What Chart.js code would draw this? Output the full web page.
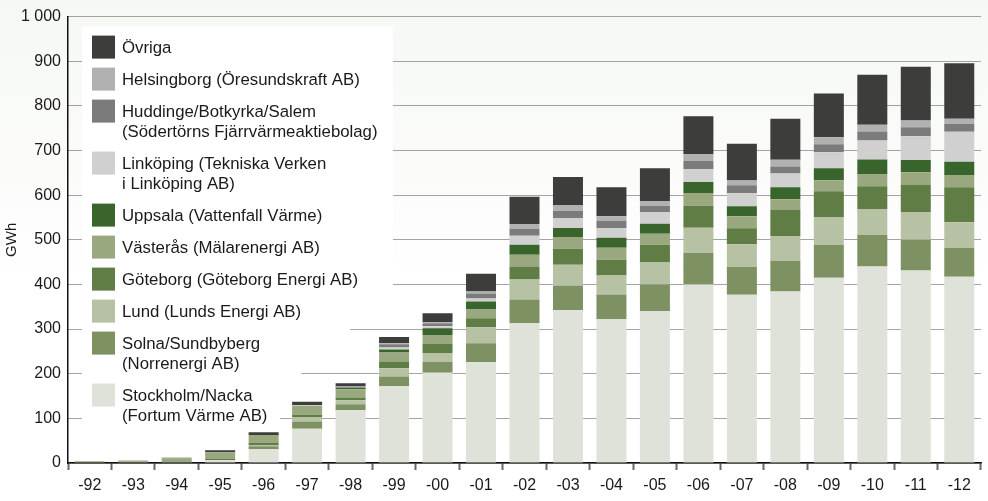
<!DOCTYPE html>
<html lang="sv">
<head>
<meta charset="utf-8">
<script src="https://cdn.jsdelivr.net/npm/chart.js@4.4.1/dist/chart.umd.min.js"></script>
<style>
  html, body { margin: 0; padding: 0; background: #fff; }
  canvas { display: block; }
</style>
</head>
<body>
<canvas id="chart" width="988" height="501"></canvas>
<script>
// år (x-axel)
const years = ['-92', '-93', '-94', '-95', '-96', '-97', '-98', '-99', '-00', '-01', '-02',
               '-03', '-04', '-05', '-06', '-07', '-08', '-09', '-10', '-11', '-12'];

// GWh per bolag, nedifrån och upp i stapeln
const stockholm   = [0, 0, 0, 7, 31, 77, 118, 172, 202, 226, 313, 342, 322, 340, 400, 377, 384, 415, 440, 431, 417];
const solna       = [0, 0, 0, 0, 6.5, 16, 13.5, 22, 24.5, 42, 53.5, 55.5, 55.5, 60, 71, 62, 69, 73.5, 71, 69, 64.5];
const lund        = [0, 0, 0, 0, 3, 9, 9, 18, 20, 36, 44.5, 46.5, 42.5, 49, 56, 51, 55.5, 62.5, 58, 62.5, 58];
const goteborg    = [0, 0, 0, 2, 4.5, 6, 6.5, 15.5, 20, 20, 29, 36, 35.5, 40, 49, 36, 58, 58, 51, 60, 78];
const vasteras    = [4, 4, 10.5, 15, 18, 20, 18, 20, 20, 20, 26.5, 26.5, 26.5, 24.5, 29, 27, 24.5, 24.5, 26.5, 29, 26.5];
const uppsala     = [0, 0, 0, 0, 0, 0, 3, 7, 15.5, 18, 22.5, 20, 22.5, 22.5, 24.5, 22, 26.5, 27, 33.5, 27, 31];
const linkoping   = [0, 0, 0, 0, 0, 2, 0, 4.5, 4.5, 6.5, 20, 22.5, 22, 26.5, 29, 29, 31, 35.5, 42.5, 53.5, 67];
const huddinge    = [0, 0, 0, 0, 0, 0, 1.5, 7, 6.5, 11, 15.5, 15.5, 15.5, 13.5, 18, 18, 15.5, 18, 20, 20, 18];
const helsingborg = [0, 0, 0, 0, 0, 0, 2, 2, 2.5, 4.5, 11, 13.5, 11, 11, 15.5, 11, 15.5, 15.5, 15.5, 15.5, 11];
const ovriga      = [0, 1, 1.5, 4.5, 6, 7, 7, 14, 20, 40, 61, 62.5, 64.5, 73.5, 85, 82, 91.5, 98, 111.5, 120, 124.5];

const yTicks = [0, 100, 200, 300, 400, 500, 600, 700, 800, 900, 1000];

const series = [
  { lines: ['Stockholm/Nacka', '(Fortum Värme AB)'], data: stockholm, color: '#dfe2d8' },
  { lines: ['Solna/Sundbyberg', '(Norrenergi AB)'], data: solna, color: '#7e9162' },
  { lines: ['Lund (Lunds Energi AB)'], data: lund, color: '#b7c2a5' },
  { lines: ['Göteborg (Göteborg Energi AB)'], data: goteborg, color: '#5f7d45' },
  { lines: ['Västerås (Mälarenergi AB)'], data: vasteras, color: '#9aa880' },
  { lines: ['Uppsala (Vattenfall Värme)'], data: uppsala, color: '#39652c' },
  { lines: ['Linköping (Tekniska Verken', 'i Linköping AB)'], data: linkoping, color: '#d0d0d0' },
  { lines: ['Huddinge/Botkyrka/Salem', '(Södertörns Fjärrvärmeaktiebolag)'], data: huddinge, color: '#7b7b7b' },
  { lines: ['Helsingborg (Öresundskraft AB)'], data: helsingborg, color: '#b1b1b1' },
  { lines: ['Övriga'], data: ovriga, color: '#3d3d3b' }
];

const FONT = '"Liberation Sans", Arial, Helvetica, sans-serif';
Chart.defaults.font.family = FONT;
Chart.defaults.color = '#1a1a1a';

// bakgrund + vit legendruta med etiketter
const legendBox = {
  id: 'legendBox',
  beforeDraw(chart) {
    const { ctx, width, height } = chart;
    const g = ctx.createLinearGradient(0, 0, 0, height);
    g.addColorStop(0, '#f5f8f3');
    g.addColorStop(0.6, '#ffffff');
    ctx.save();
    ctx.fillStyle = g;
    ctx.fillRect(0, 0, width, height);
    ctx.restore();
  },
  beforeDatasetsDraw(chart) {
    const { ctx, chartArea: a } = chart;
    ctx.save();
    ctx.fillStyle = '#ffffff';
    ctx.beginPath();
    ctx.moveTo(a.left + 14, a.top + 10);
    ctx.lineTo(a.left + 325, a.top + 10);
    ctx.lineTo(a.left + 325, a.top + 275);
    ctx.lineTo(a.left + 280, a.top + 315);
    ctx.lineTo(a.left + 230, a.top + 360);
    ctx.lineTo(a.left + 210, a.top + 407);
    ctx.lineTo(a.left + 14, a.top + 407);
    ctx.closePath();
    ctx.fill();

    ctx.font = '16.8px ' + FONT;
    ctx.textBaseline = 'middle';
    ctx.textAlign = 'left';
    let y = a.top + 19;
    series.slice().reverse().forEach(s => {
      ctx.fillStyle = s.color;
      ctx.fillRect(a.left + 24, y, 23, 23);
      ctx.fillStyle = '#1a1a1a';
      s.lines.forEach((line, i) => ctx.fillText(line, a.left + 54, y + 12.5 + i * 20.5));
      y += 32 + 20 * (s.lines.length - 1);
    });
    ctx.restore();
  }
};

new Chart(document.getElementById('chart'), {
  type: 'bar',
  data: {
    labels: years,
    datasets: series.map(s => ({
      label: s.lines.join(' '),
      data: s.data,
      backgroundColor: s.color,
      borderWidth: 0,
      categoryPercentage: 1,
      barPercentage: 0.69
    }))
  },
  options: {
    responsive: false,
    animation: false,
    layout: { padding: { top: 15, right: 7, left: 0, bottom: 0 } },
    plugins: {
      legend: { display: false },
      tooltip: { enabled: false }
    },
    scales: {
      x: {
        stacked: true,
        grid: {
          drawOnChartArea: false,
          drawTicks: true,
          tickLength: 7,
          tickWidth: 2,
          tickColor: '#666',
          offset: true
        },
        border: { color: '#111', width: 1.5 },
        ticks: { font: { size: 16 }, padding: 6, maxRotation: 0, autoSkip: false },
        afterFit: scale => { scale.height = 38; }
      },
      y: {
        stacked: true,
        min: 0,
        max: 1000,
        afterBuildTicks: scale => { scale.ticks = yTicks.map(v => ({ value: v })); },
        ticks: {
          font: { size: 16 },
          padding: 7,
          callback: v => v >= 1000 ? String(v).replace(/\B(?=(\d{3})+(?!\d))/g, ' ') : v
        },
        grid: { color: '#4a4a4a', lineWidth: 1, drawTicks: false },
        border: { color: '#111', width: 1.5, dash: [1, 1] },
        title: { display: true, text: 'GWh', font: { size: 15 }, padding: { top: 3, bottom: 0 } },
        afterFit: scale => { scale.width = 68; }
      }
    }
  },
  plugins: [legendBox]
});
</script>
</body>
</html>
